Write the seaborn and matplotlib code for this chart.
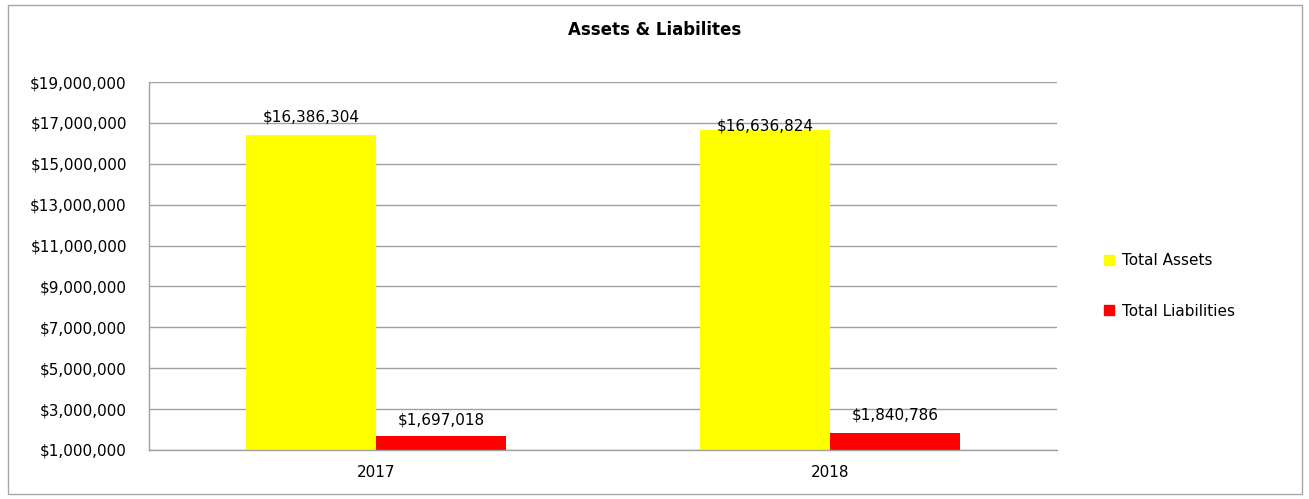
import matplotlib
matplotlib.use("Agg")
import matplotlib.pyplot as plt
import seaborn as sns
import pandas as pd
from matplotlib.lines import Line2D
from matplotlib.patches import Rectangle

years = ["2017", "2018"]
total_assets = [16386304, 16636824]
total_liabilities = [1697018, 1840786]
series_names = ["Total Assets", "Total Liabilities"]
colors = ["#FFFF00", "#FF0000"]
y_ticks = list(range(1000000, 19000001, 2000000))

df = pd.DataFrame({
    "Year": years * 2,
    "Value": total_assets + total_liabilities,
    "Series": [series_names[0]] * 2 + [series_names[1]] * 2,
})

sns.set_style("white")
plt.rcParams["font.family"] = ["DejaVu Sans"]
plt.rcParams["text.color"] = "black"

W, H = 1309, 499
fig = plt.figure(figsize=(W / 100, H / 100), dpi=100)
ax = fig.add_axes([149 / W, 1 - 450 / H, (1057 - 149) / W, (450 - 82) / H])

sns.barplot(data=df, x="Year", y="Value", hue="Series", palette=colors,
            width=0.572, gap=0, ax=ax, legend=False, saturation=1,
            linewidth=0, edgecolor="none")

ax.set_ylim(1000000, 19000000)
ax.set_yticks(y_ticks)
ax.set_yticklabels([f"${v:,.0f}" for v in y_ticks])
ax.yaxis.grid(True, color="#a0a0a0", linewidth=1.0)
ax.set_axisbelow(True)
ax.set_xlabel("")
ax.set_ylabel("")
for s in ["top", "right"]:
    ax.spines[s].set_visible(False)
for s in ["left", "bottom"]:
    ax.spines[s].set_color("#a0a0a0")
    ax.spines[s].set_linewidth(1.0)
ax.tick_params(axis="y", length=0, pad=16, labelsize=11, colors="black")
ax.tick_params(axis="x", length=0, pad=11, labelsize=11, colors="black")

# data labels (offsets in points above bar tops)
label_offsets = [[13.5, 3.0], [11.5, 13.0]]
for ci, cont in enumerate(ax.containers):
    for bi, bar in enumerate(cont):
        h = bar.get_height()
        ax.annotate(f"${h:,.0f}", (bar.get_x() + bar.get_width() / 2, h),
                    xytext=(0, label_offsets[ci][bi]), textcoords="offset points",
                    ha="center", va="center", fontsize=11, color="black",
                    annotation_clip=False)

fig.text(0.5, 1 - 30 / H, "Assets & Liabilites", ha="center", va="center",
         fontsize=12, fontweight="bold", color="black")

handles = [Line2D([0], [0], marker="s", linestyle="none", markersize=7,
                  markerfacecolor=c, markeredgecolor=c) for c in colors]
leg = fig.legend(handles, series_names, loc="center left",
                 bbox_to_anchor=(1088 / W, 1 - 286 / H), frameon=False,
                 fontsize=11, labelspacing=2.3, handletextpad=0.3, handlelength=1.0)
for t in leg.get_texts():
    t.set_color("black")

fig.patches.append(Rectangle((8 / W, 1 - 494 / H), (1302 - 8) / W, (494 - 5) / H,
                             transform=fig.transFigure, fill=False,
                             edgecolor="#a6a6a6", linewidth=1.0))

fig.savefig("out.png", dpi=100)
